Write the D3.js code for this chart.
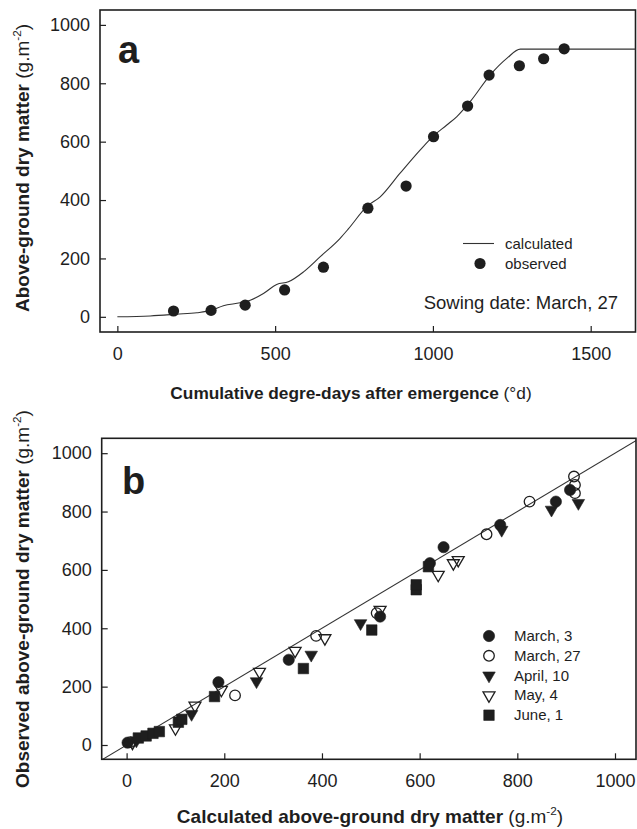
<!DOCTYPE html>
<html><head><meta charset="utf-8">
<script src="https://cdn.jsdelivr.net/npm/d3@7"></script>
<style>
body{margin:0;background:#fff}
svg{display:block}
text{font-family:"Liberation Sans",Arial,sans-serif;fill:#1e1e1e}
</style>
</head><body>
<svg id="chart" width="637" height="829"></svg>
<script>
// ---------- Panel a data ----------
const calcDD = [0,104,188,252,297,336,389,421,463,505,542,590,643,706,732,791,833,896,960,1002,1044,1076,1118,1182,1235,1277,1642];
const calcDM = [0,3,9,14,22,38,48,57,80,111,120,154,206,269,301,378,411,492,572,620,657,686,737,829,886,917,917];
const obsDD = [178,297,405,530,653,794,915,1002,1110,1178,1274,1351,1416];
const obsDM = [20,22,40,92,170,372,448,617,722,828,860,884,918];
const xTicksA = [0,500,1000,1500];
const yTicksA = [0,200,400,600,800,1000];

// ---------- Panel b data ([calculated, observed]) ----------
const sowingDates = ["March, 3","March, 27","April, 10","May, 4","June, 1"];
const march3 = [[2,8],[188,215],[332,292],[519,440],[621,623],[649,678],[765,754],[879,834],[908,874]];
const march27 = [[8,10],[222,170],[388,374],[512,452],[737,722],[825,834],[916,920],[918,891],[918,863]];
const april10 = [[20,15],[133,106],[266,218],[378,309],[479,417],[768,737],[870,806],[925,829]];
const may4 = [[12,8],[100,57],[140,135],[194,189],[272,251],[345,323],[406,366],[519,463],[638,583],[669,623],[679,634]];
const june1 = [[24,24],[40,31],[54,40],[67,46],[106,78],[113,88],[180,166],[362,262],[502,394],[593,532],[593,549],[618,611]];
const xTicksB = [0,200,400,600,800,1000];
const yTicksB = [0,200,400,600,800,1000];
const oneToOne = [-60,1060];

const svg = d3.select("#chart");
const ink = "#1e1e1e";

function frame(g, x, y){
  const [x0,x1] = x.range(), [y0,y1] = y.range();
  g.append("rect").attr("x",x0).attr("y",y1).attr("width",x1-x0).attr("height",y0-y1)
   .attr("fill","none").attr("stroke",ink).attr("stroke-width",1.6);
}
function axes(g, x, y, xt, yt){
  const [x0] = x.range(), [y0] = y.range();
  const ax = g.append("g").attr("transform",`translate(0,${y0})`)
    .call(d3.axisBottom(x).tickValues(xt).tickSize(-6).tickPadding(15).tickFormat(d3.format("d")));
  const ay = g.append("g").attr("transform",`translate(${x0},0)`)
    .call(d3.axisLeft(y).tickValues(yt).tickSize(-6).tickPadding(10).tickFormat(d3.format("d")));
  [ax,ay].forEach(a=>{
    a.select(".domain").remove();
    a.selectAll("line").attr("stroke",ink).attr("stroke-width",1.2);
    a.selectAll("text").attr("font-size",18).attr("font-family",'"Liberation Sans",Arial,sans-serif').attr("fill",ink);
  });
}
function label(g, x, y, rot, boldPart, normalPart, sup, size){
  const t = g.append("text").attr("text-anchor","middle").attr("font-size",size)
    .attr("transform",`translate(${x},${y}) rotate(${rot})`);
  t.append("tspan").attr("font-weight","bold").text(boldPart);
  t.append("tspan").text(normalPart);
  if (sup){
    t.append("tspan").attr("font-size",size*0.62).attr("dy",-size*0.42).text(sup);
    t.append("tspan").attr("dy",size*0.42).text(")");
  }
}

// ---------- Panel a ----------
const xa = d3.scaleLinear().domain([-55,1642]).range([100,635.5]);
const ya = d3.scaleLinear().domain([-52,1051]).range([332,10]);
const ga = svg.append("g");
axes(ga, xa, ya, xTicksA, yTicksA);
frame(ga, xa, ya);
ga.append("path").datum(d3.zip(calcDD, calcDM))
  .attr("fill","none").attr("stroke","#333").attr("stroke-width",1.1)
  .attr("d", d3.line().x(d=>xa(d[0])).y(d=>ya(d[1])).curve(d3.curveMonotoneX));
ga.selectAll("circle.obs").data(d3.zip(obsDD, obsDM)).join("circle")
  .attr("class","obs").attr("cx",d=>xa(d[0])).attr("cy",d=>ya(d[1])).attr("r",5.6).attr("fill",ink);
ga.append("text").attr("x",118).attr("y",63).attr("font-size",38).attr("font-weight","bold").text("a");
// legend a
ga.append("line").attr("x1",463).attr("x2",494).attr("y1",243.5).attr("y2",243.5).attr("stroke","#333").attr("stroke-width",1.1);
ga.append("text").attr("x",505).attr("y",248.5).attr("font-size",15).text("calculated");
ga.append("circle").attr("cx",480).attr("cy",263.5).attr("r",5.6).attr("fill",ink);
ga.append("text").attr("x",505).attr("y",268.5).attr("font-size",15).text("observed");
ga.append("text").attr("x",618).attr("y",308.5).attr("text-anchor","end").attr("font-size",18.5).text("Sowing date: March, 27");
label(ga, 351, 398.5, 0, "Cumulative degre-days after emergence", " (°d)", null, 17.3);
label(ga, 28.5, 168, -90, "Above-ground dry matter", " (g.m", "-2", 19);

// ---------- Panel b ----------
const xb = d3.scaleLinear().domain([-51,1043]).range([101.7,636]);
const yb = d3.scaleLinear().domain([-49,1051]).range([759.3,438.3]);
const gb = svg.append("g");
axes(gb, xb, yb, xTicksB, yTicksB);
gb.append("clipPath").attr("id","clipb").append("rect")
  .attr("x",101.7).attr("y",438.3).attr("width",636-101.7).attr("height",759.3-438.3);
gb.append("path").datum(oneToOne.map(v=>[v,v])).attr("clip-path","url(#clipb)")
  .attr("fill","none").attr("stroke","#333").attr("stroke-width",1.1)
  .attr("d", d3.line().x(d=>xb(d[0])).y(d=>yb(d[1])));
frame(gb, xb, yb);

const styles = [
  {data:march3, type:d3.symbolCircle, size:100, filled:true, rot:0},
  {data:march27, type:d3.symbolCircle, size:88, filled:false, rot:0},
  {data:april10, type:d3.symbolTriangle, size:68, filled:true, rot:180},
  {data:may4, type:d3.symbolTriangle, size:62, filled:false, rot:180},
  {data:june1, type:d3.symbolSquare, size:110, filled:true, rot:0}
];
function drawSym(g, s, cx, cy){
  g.append("path").attr("d", d3.symbol().type(s.type).size(s.size)())
    .attr("transform",`translate(${cx},${cy}) rotate(${s.rot})`)
    .attr("fill", s.filled ? ink : "none")
    .attr("stroke", ink).attr("stroke-width", s.filled ? 0.6 : 1.3);
}
styles.forEach(s=>{
  s.data.forEach(d=>drawSym(gb, s, xb(d[0]), yb(d[1])));
});
gb.append("text").attr("x",122).attr("y",494).attr("font-size",38).attr("font-weight","bold").text("b");
// legend b
sowingDates.forEach((name,i)=>{
  const cy = 636 + i*19.8;
  drawSym(gb, styles[i], 489, cy);
  gb.append("text").attr("x",514).attr("y",cy+5).attr("font-size",15).text(name);
});
label(gb, 370, 823, 0, "Calculated above-ground dry matter", " (g.m", "-2", 19);
label(gb, 28.5, 599, -90, "Observed above-ground dry matter", " (g.m", "-2", 19);
</script>
</body></html>
